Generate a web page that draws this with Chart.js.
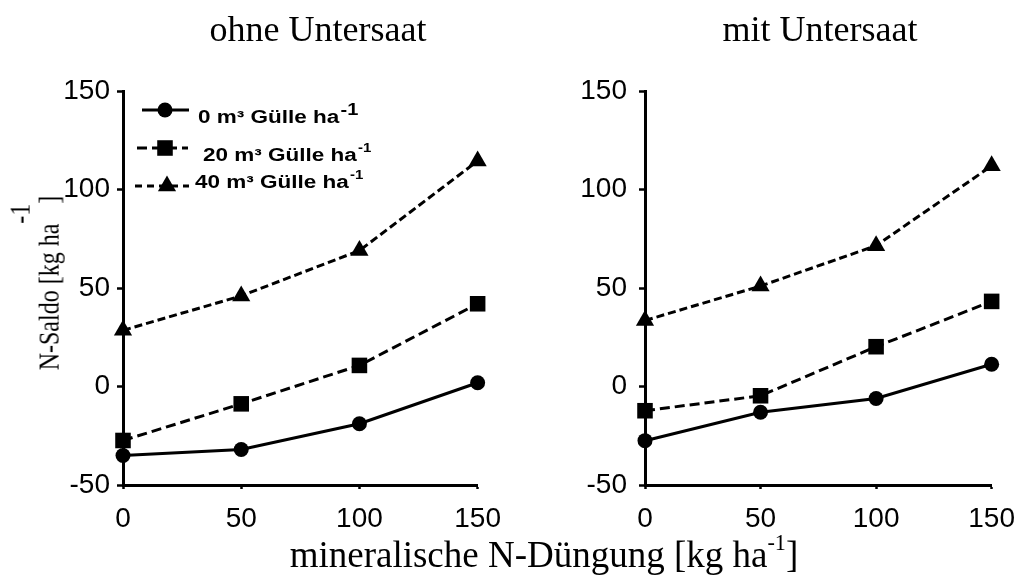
<!DOCTYPE html>
<html>
<head>
<meta charset="utf-8">
<script src="https://cdn.jsdelivr.net/npm/chart.js@4.4.1/dist/chart.umd.min.js"></script>
<style>
  body { margin: 0; background: #fff; }
  #wrap { position: relative; width: 1028px; height: 575px; background: #fff; overflow: hidden; }
  .ttl { position: absolute; font-family: "Liberation Serif", "Times New Roman", serif; color: #000; text-align: center; white-space: nowrap; }
  .panel { position: absolute; top: 0; height: 575px; overflow: hidden; }
</style>
</head>
<body>
<div id="wrap">
  <div class="panel" style="left:0;width:502px"><canvas id="chartOhne" width="514" height="575"></canvas></div>
  <div class="panel" style="left:514px;width:514px"><canvas id="chartMit" width="514" height="575"></canvas></div>
  <div class="ttl" id="title1" style="left:118px;top:11px;width:400px;font-size:36px;line-height:36px"></div>
  <div class="ttl" id="title2" style="left:620px;top:11px;width:400px;font-size:36px;line-height:36px"></div>
  <div class="ttl" style="left:194px;top:536px;width:700px;font-size:37px;line-height:37px">mineralische N-Düngung [kg ha<span style="font-size:0.6em;position:relative;top:-0.75em">-1</span>]</div>
  <div class="ttl" style="left:-81px;top:268px;width:260px;height:30px;font-size:24px;line-height:30px;transform:scaleX(1.2) rotate(-90deg)">N-Saldo [kg ha<span style="position:relative;top:-24px">-1</span>]</div>
</div>
<script>
"use strict";
// x-Werte (mineralische N-Düngung)
const xValues = [0, 50, 100, 150];
// ohne Untersaat
const ohne0 = [-35, -32, -18.9, 1.9];
const ohne20 = [-27.4, -8.8, 10.7, 42];
const ohne40 = [28.5, 46, 69, 114.5];
// mit Untersaat
const mit0 = [-27.5, -13.1, -6.1, 11.3];
const mit20 = [-12.3, -4.7, 20.2, 43.2];
const mit40 = [33.5, 51, 71.5, 112];
const seriesLabels = ['0 m³ Gülle ha', '20 m³ Gülle ha', '40 m³ Gülle ha'];
const panelTitles = ['ohne Untersaat', 'mit Untersaat'];

document.getElementById('title1').textContent = panelTitles[0];
document.getElementById('title2').textContent = panelTitles[1];

const toPoints = vals => vals.map((v, i) => ({ x: xValues[i], y: v }));

function makeDatasets(v0, v20, v40) {
    const base = { borderColor: '#000', backgroundColor: '#000', pointBackgroundColor: '#000', pointBorderColor: '#000', pointBorderWidth: 0, borderWidth: 3, tension: 0, clip: false };
    return [
        { ...base, label: seriesLabels[0], data: toPoints(v0), pointStyle: 'circle', pointRadius: 7.5 },
        { ...base, label: seriesLabels[1], data: toPoints(v20), pointStyle: 'rect', pointRadius: 11, borderDash: [10, 5] },
        { ...base, label: seriesLabels[2], data: toPoints(v40), pointStyle: 'triangle', pointRadius: 10.5, borderDash: [8, 4] }
    ];
}

function makeScales(yWidth, yPad) {
    const tickFont = { family: 'Liberation Sans', size: 28 };
    return {
        x: {
            type: 'linear', min: 0, max: 150,
            ticks: { stepSize: 50, color: '#000', font: tickFont, padding: 13, maxRotation: 0 },
            grid: { drawOnChartArea: false, color: '#000', tickColor: '#000', tickLength: 4, tickWidth: 2.5 },
            border: { color: '#000', width: 3 },
            afterFit: s => { s.height = 90; }
        },
        y: {
            type: 'linear', min: -50, max: 150,
            ticks: { stepSize: 50, color: '#000', font: tickFont, padding: yPad },
            grid: { drawOnChartArea: false, color: '#000', tickColor: '#000', tickLength: 6, tickWidth: 2.5 },
            border: { color: '#000', width: 3 },
            afterFit: s => { s.width = yWidth; }
        }
    };
}

function drawMarker(ctx, style, r, x, y) {
    ctx.beginPath();
    if (style === 'circle') {
        ctx.arc(x, y, r, 0, Math.PI * 2);
    } else if (style === 'rect') {
        const h = r * Math.SQRT1_2;
        ctx.rect(x - h, y - h, 2 * h, 2 * h);
    } else {
        ctx.moveTo(x, y - r);
        ctx.lineTo(x + r * 0.866, y + r / 2);
        ctx.lineTo(x - r * 0.866, y + r / 2);
        ctx.closePath();
    }
    ctx.fill();
}

// Legende im linken Diagramm (Linie + Marker + Text), Schrift leicht gestreckt wie im Original
const legendPlugin = {
    id: 'gueLegend',
    afterDraw(chart) {
        const ctx = chart.ctx;
        const rows = [
            { style: 'circle', r: 7.5, dash: [], x1: 142, x2: 189, mx: 165, my: 110, tx: 198, ty: 123, sup: 16, supDy: -8 },
            { style: 'rect', r: 11, dash: [10, 5], x1: 137, x2: 188, mx: 165, my: 148, tx: 203, ty: 161, sup: 12, supDy: -9 },
            { style: 'triangle', r: 10.5, dash: [7, 5], x1: 135, x2: 189, mx: 167, my: 186, tx: 195, ty: 188, sup: 12, supDy: -9 }
        ];
        const sx = 1.25;
        ctx.save();
        ctx.strokeStyle = '#000';
        ctx.fillStyle = '#000';
        rows.forEach((row, i) => {
            ctx.lineWidth = 3;
            ctx.setLineDash(row.dash);
            ctx.beginPath();
            ctx.moveTo(row.x1, row.my);
            ctx.lineTo(row.x2, row.my);
            ctx.stroke();
            ctx.setLineDash([]);
            drawMarker(ctx, row.style, row.r, row.mx, row.my);
            const label = chart.data.datasets[i].label;
            ctx.save();
            ctx.translate(row.tx, row.ty);
            ctx.scale(sx, 1);
            ctx.font = 'bold 18px "Liberation Sans"';
            ctx.textBaseline = 'alphabetic';
            ctx.textAlign = 'left';
            ctx.fillText(label, 0, 0);
            const w = ctx.measureText(label).width;
            ctx.font = 'bold ' + row.sup + 'px "Liberation Sans"';
            ctx.fillText('-1', w + 1, row.supDy);
            ctx.restore();
        });
        ctx.restore();
    }
};

function makeChart(id, datasets, yWidth, yPad, padRight, plugins) {
    return new Chart(document.getElementById(id), {
        type: 'line',
        data: { datasets: datasets },
        options: {
            responsive: false,
            animation: false,
            layout: { padding: { top: 91, right: padRight, bottom: 0, left: 0 } },
            plugins: { legend: { display: false }, tooltip: { enabled: false } },
            scales: makeScales(yWidth, yPad)
        },
        plugins: plugins
    });
}

makeChart('chartOhne', makeDatasets(ohne0, ohne20, ohne40), 123, 7, 31, [legendPlugin]);
makeChart('chartMit', makeDatasets(mit0, mit20, mit40), 131, 12, 24, []);
</script>
</body>
</html>
